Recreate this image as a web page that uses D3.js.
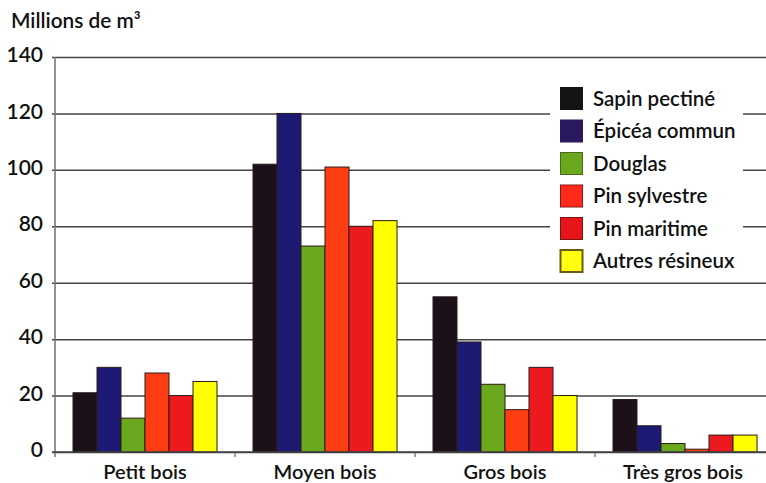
<!DOCTYPE html>
<html>
<head>
<meta charset="utf-8">
<script src="https://cdn.jsdelivr.net/npm/d3@7"></script>
<style>
  html, body { margin: 0; padding: 0; background: #fff; }
  svg { display: block; }
  text { font-family: Lato, "Open Sans", sans-serif; fill: #111; }
</style>
</head>
<body>
<svg id="chart" width="766" height="483"></svg>
<script>
// Volume sur pied des résineux par catégorie de grosseur (millions de m³)
const categories = ["Petit bois", "Moyen bois", "Gros bois", "Très gros bois"];
const species = ["Sapin pectiné", "Épicéa commun", "Douglas", "Pin sylvestre", "Pin maritime", "Autres résineux"];
const sapinPectine   = [21, 102, 55, 18.6];
const epiceaCommun   = [30, 120, 39, 9.3];
const douglas        = [12, 73, 24, 3];
const pinSylvestre   = [28, 101, 15, 1];
const pinMaritime    = [20, 80, 30, 6];
const autresResineux = [25, 82, 20, 6];
const yTicks = [0, 20, 40, 60, 80, 100, 120, 140];

const seriesValues = [sapinPectine, epiceaCommun, douglas, pinSylvestre, pinMaritime, autresResineux];
const colors = ["#1c1019", "#1c1a72", "#6aa81e", "#ff3d12", "#ec1a1e", "#ffff00"];
const legendSwatch = ["#141414", "#2a1860", "#6aa81e", "#ff2a1a", "#e8141c", "#ffff10"];
const legendStroke = ["#141414", "#2a1860", "#4a6a18", "#8a1a10", "#7a1410", "#6a5a10"];

const svg = d3.select("#chart");
const plotLeft = 55, plotRight = 775, plotTop = 57, plotBottom = 452;

const x0 = d3.scaleBand().domain(categories).range([plotLeft, plotRight]).paddingInner(0).paddingOuter(0);
const x1 = d3.scaleBand().domain(species).range([0, x0.bandwidth()]).paddingInner(0).paddingOuter(0.75);
const y = d3.scaleLinear().domain([0, 140]).range([plotBottom, plotTop]);

// horizontal grid lines with short left ticks
const yAxis = d3.axisLeft(y).tickValues(yTicks).tickSize(0).tickPadding(12).tickFormat(d3.format("d"));
const gy = svg.append("g").attr("transform", `translate(${plotLeft - 3},0)`);
gy.call(yAxis);
gy.select(".domain").remove();
gy.selectAll(".tick line")
  .attr("x1", 0).attr("x2", 766 - plotLeft + 3)
  .attr("stroke", "#444").attr("stroke-width", 1.5);
gy.selectAll(".tick text")
  .attr("x", -9).attr("dy", "0.22em")
  .style("font-size", "21px").style("font-weight", 600).style("fill", "#111");

// vertical axis line
svg.append("line")
  .attr("x1", plotLeft).attr("x2", plotLeft)
  .attr("y1", y(140)).attr("y2", plotBottom + 5)
  .attr("stroke", "#777").attr("stroke-width", 1.6);

// category separator ticks under the baseline
svg.append("g").selectAll("line")
  .data(categories.slice(1))
  .join("line")
  .attr("x1", d => x0(d)).attr("x2", d => x0(d))
  .attr("y1", plotBottom).attr("y2", plotBottom + 5)
  .attr("stroke", "#777").attr("stroke-width", 1.4);

// legend background interrupts the grid
svg.append("rect")
  .attr("x", 550).attr("y", 80).attr("width", 193).attr("height", 197)
  .attr("fill", "#fff");

// bars
const groups = svg.append("g").selectAll("g")
  .data(categories)
  .join("g")
  .attr("transform", d => `translate(${x0(d)},0)`);

groups.selectAll("rect")
  .data((c, ci) => species.map((s, si) => ({ s, si, v: seriesValues[si][ci] })))
  .join("rect")
  .attr("x", d => x1(d.s))
  .attr("width", x1.bandwidth())
  .attr("y", d => y(d.v))
  .attr("height", d => y(0) - y(d.v))
  .attr("fill", d => colors[d.si])
  .attr("stroke", "#2a1a1a")
  .attr("stroke-width", 1);

// baseline
svg.append("line")
  .attr("x1", plotLeft - 3).attr("x2", 766)
  .attr("y1", plotBottom).attr("y2", plotBottom)
  .attr("stroke", "#444").attr("stroke-width", 1.5);

// category labels
svg.append("g").selectAll("text")
  .data(categories)
  .join("text")
  .attr("x", d => x0(d) + x0.bandwidth() / 2 - (d === "Très gros bois" ? 2 : 0))
  .attr("y", 479)
  .attr("text-anchor", "middle")
  .style("font-size", "20px").style("font-weight", 600)
  .text(d => d);

// legend
const lg = svg.append("g").attr("transform", "translate(560,87)");
const item = lg.selectAll("g")
  .data(species)
  .join("g")
  .attr("transform", (d, i) => `translate(0,${i * 32.5})`);
item.append("rect")
  .attr("x", 0.5).attr("y", 0.5).attr("width", 22).attr("height", 22)
  .attr("fill", (d, i) => legendSwatch[i])
  .attr("stroke", (d, i) => legendStroke[i])
  .attr("stroke-width", (d, i) => i === 5 ? 2 : 1);
item.append("text")
  .attr("x", 33).attr("y", 18.5)
  .style("font-size", "20.5px").style("font-weight", 600)
  .text(d => d);

// unit title
svg.append("text")
  .attr("x", 11).attr("y", 28)
  .style("font-size", "20.8px").style("font-weight", 600)
  .text("Millions de m³");
</script>
</body>
</html>
